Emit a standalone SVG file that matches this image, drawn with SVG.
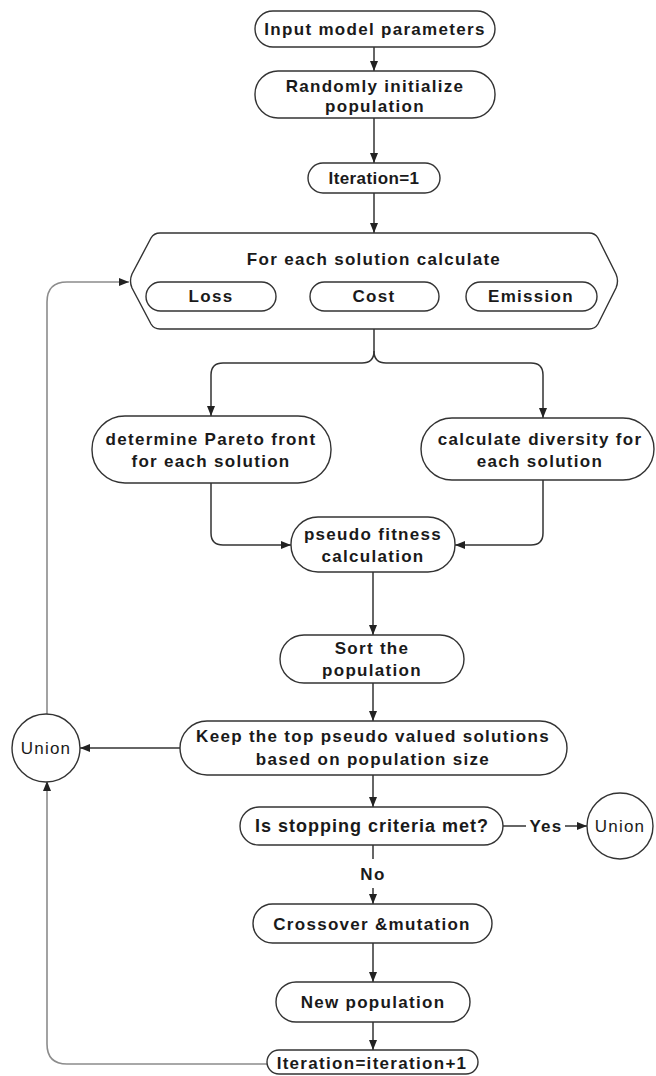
<svg xmlns="http://www.w3.org/2000/svg" width="656" height="1076" viewBox="0 0 656 1076">
<style>
.box{fill:#fff;stroke:#333;stroke-width:1.4}
.t{font-family:"Liberation Sans",Arial,sans-serif;font-weight:bold;font-size:17px;letter-spacing:1.3px;fill:#1a1a1a;text-anchor:middle}
.r{font-family:"Liberation Sans",Arial,sans-serif;font-size:17px;letter-spacing:1.2px;fill:#1a1a1a;text-anchor:middle}
.c{fill:none;stroke:#333;stroke-width:1.5}
.g{fill:none;stroke:#8c8c8c;stroke-width:1.6}
</style>
<defs>
<marker id="ah" viewBox="0 0 10 8" refX="10" refY="4" markerWidth="10" markerHeight="8" markerUnits="userSpaceOnUse" orient="auto">
<path d="M0,0 L10,4 L0,8 Z" fill="#222"/>
</marker>
</defs>
<rect width="656" height="1076" fill="#fff"/>
<g id="connectors">
<path class="c" d="M374 47 V71" marker-end="url(#ah)"/>
<path class="c" d="M374 118 V163" marker-end="url(#ah)"/>
<path class="c" d="M374 193 V233" marker-end="url(#ah)"/>
<path class="c" d="M374 329 V351 Q374 363 362 363 H223 Q211 363 211 375 V416" marker-end="url(#ah)"/>
<path class="c" d="M374 351 Q374 363 386 363 H531 Q543 363 543 375 V418" marker-end="url(#ah)"/>
<path class="c" d="M211 483 V533 Q211 545 223 545 H291" marker-end="url(#ah)"/>
<path class="c" d="M543 480 V533 Q543 545 531 545 H455" marker-end="url(#ah)"/>
<path class="c" d="M373 572 V635" marker-end="url(#ah)"/>
<path class="c" d="M373 683 V721" marker-end="url(#ah)"/>
<path class="c" d="M180 748 H80" marker-end="url(#ah)"/>
<path class="c" d="M373 775 V807" marker-end="url(#ah)"/>
<path class="c" d="M503 826 H526"/>
<text class="t" x="546" y="832">Yes</text>
<path class="c" d="M565 826 H587" marker-end="url(#ah)"/>
<path class="c" d="M373 845 V859"/>
<text class="t" x="373" y="880">No</text>
<path class="c" d="M373 888 V904" marker-end="url(#ah)"/>
<path class="c" d="M373 943 V982" marker-end="url(#ah)"/>
<path class="c" d="M373 1022 V1050" marker-end="url(#ah)"/>
<path class="g" d="M267 1064 H67 Q47 1064 47 1044 V781" marker-end="url(#ah)"/>
<path class="g" d="M47 714 V302 Q47 282 67 282 H129" marker-end="url(#ah)"/>
</g>
<g id="input">
<rect class="box" x="255" y="11" width="240" height="36" rx="18"/>
<text class="t" x="375" y="35">Input model parameters</text>
</g>
<g id="init">
<rect class="box" x="255" y="71" width="240" height="47" rx="23"/>
<text class="t" x="375" y="92">Randomly initialize</text>
<text class="t" x="375" y="112">population</text>
</g>
<g id="iter1">
<rect class="box" x="308" y="163" width="132" height="30" rx="15"/>
<text class="t" x="374" y="184" style="letter-spacing:0.4px">Iteration=1</text>
</g>
<g id="evaluate">
<path class="box" d="M160 233 H589 Q595 233 598 238 L616 274 Q619 281 616 288 L598 324 Q595 329 589 329 H160 Q154 329 151 324 L132 288 Q129 281 132 274 L151 238 Q154 233 160 233 Z"/>
<text class="t" x="374" y="265">For each solution calculate</text>
<rect class="box" x="146" y="282" width="130" height="29" rx="14.5"/>
<text class="t" x="211" y="302">Loss</text>
<rect class="box" x="310" y="282" width="129" height="29" rx="14.5"/>
<text class="t" x="374" y="302">Cost</text>
<rect class="box" x="466" y="282" width="131" height="29" rx="14.5"/>
<text class="t" x="531" y="302">Emission</text>
</g>
<g id="pareto">
<rect class="box" x="92" y="416" width="239" height="67" rx="33"/>
<text class="t" x="211" y="445">determine Pareto front</text>
<text class="t" x="211" y="467">for each solution</text>
</g>
<g id="diversity">
<rect class="box" x="421" y="418" width="233" height="62" rx="31"/>
<text class="t" x="540" y="445">calculate diversity for</text>
<text class="t" x="540" y="467">each solution</text>
</g>
<g id="pseudo">
<rect class="box" x="291" y="517" width="164" height="55" rx="27"/>
<text class="t" x="373" y="540">pseudo fitness</text>
<text class="t" x="373" y="562">calculation</text>
</g>
<g id="sort">
<rect class="box" x="280" y="635" width="184" height="48" rx="24"/>
<text class="t" x="372" y="654">Sort the</text>
<text class="t" x="372" y="676">population</text>
</g>
<g id="keep">
<rect class="box" x="180" y="721" width="387" height="54" rx="27"/>
<text class="t" x="373" y="742">Keep the top pseudo valued solutions</text>
<text class="t" x="373" y="765">based on population size</text>
</g>
<g id="union-left">
<circle class="box" cx="46" cy="748" r="34"/>
<text class="r" x="46" y="754">Union</text>
</g>
<g id="stop">
<rect class="box" x="240" y="807" width="263" height="38" rx="19"/>
<text class="t" x="372" y="832" style="font-size:18px;letter-spacing:1px">Is stopping criteria met?</text>
</g>
<g id="union-right">
<circle class="box" cx="620" cy="826" r="33"/>
<text class="r" x="620" y="832">Union</text>
</g>
<g id="crossover">
<rect class="box" x="253" y="904" width="239" height="39" rx="19.5"/>
<text class="t" x="372" y="930">Crossover &amp;mutation</text>
</g>
<g id="newpop">
<rect class="box" x="276" y="982" width="194" height="40" rx="20"/>
<text class="t" x="373" y="1008">New population</text>
</g>
<g id="iterinc">
<rect class="box" x="267" y="1050" width="211" height="24" rx="12"/>
<text class="t" x="372" y="1069">Iteration=iteration+1</text>
</g>
</svg>
